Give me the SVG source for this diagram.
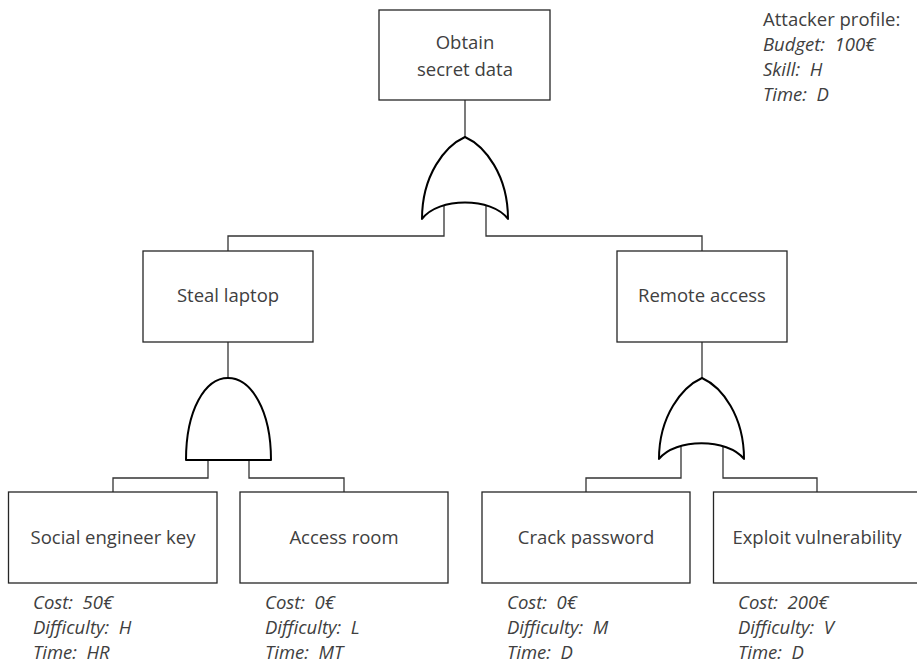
<svg xmlns="http://www.w3.org/2000/svg" width="917" height="664" viewBox="0 0 917 664">
  <style>
    .box { fill: #ffffff; stroke: #262626; stroke-width: 1.3; }
    .label { font-family: "Open Sans", "Noto Sans", sans-serif; font-size: 18.5px; fill: #404040; text-anchor: middle; }
    .note { font-family: "Open Sans", "Noto Sans", sans-serif; font-size: 18.5px; font-style: italic; fill: #404040; white-space: pre; }
    .title { font-family: "Open Sans", "Noto Sans", sans-serif; font-size: 18.5px; fill: #404040; white-space: pre; }
    .wire { fill: none; stroke: #333333; stroke-width: 1.3; }
    .gate { fill: #ffffff; stroke: #000000; stroke-width: 2; stroke-linejoin: round; }
  </style>
  <rect width="917" height="664" fill="#ffffff"/>

  <!-- connectors -->
  <g id="connectors">
    <path class="wire" d="M465,100 V137"/>
    <path class="wire" d="M444,205 V236 H228 V251"/>
    <path class="wire" d="M486,205 V236 H702 V251"/>
    <path class="wire" d="M228,342 V378"/>
    <path class="wire" d="M208,460 V478 H113 V492"/>
    <path class="wire" d="M249,460 V478 H344 V492"/>
    <path class="wire" d="M702,342 V378"/>
    <path class="wire" d="M681,447 V478 H586 V492"/>
    <path class="wire" d="M723,447 V478 H817 V492"/>
  </g>

  <!-- gates -->
  <g id="gate-or-top">
    <path class="gate" d="M422,219 C422,175 445,146 465,137 C485,146 508,175 508,219 C492,197 438,197 422,219 Z"/>
  </g>
  <g id="gate-and-laptop">
    <path class="gate" d="M186,460 C186,410 205,378 228,378 C251,378 271,410 271,460 Z"/>
  </g>
  <g id="gate-or-remote">
    <path class="gate" d="M659,459 C659,416 682,387 702,378 C722,387 744,416 744,459 C728,438 675,438 659,459 Z"/>
  </g>

  <!-- nodes -->
  <g id="node-obtain">
    <rect class="box" x="379" y="10" width="171" height="90"/>
    <text class="label" x="465" y="49">Obtain</text>
    <text class="label" x="465" y="76">secret data</text>
  </g>
  <g id="node-steal">
    <rect class="box" x="143" y="251" width="170" height="91"/>
    <text class="label" x="228" y="302">Steal laptop</text>
  </g>
  <g id="node-remote">
    <rect class="box" x="617" y="251" width="170" height="91"/>
    <text class="label" x="702" y="302">Remote access</text>
  </g>
  <g id="node-social">
    <rect class="box" x="8.5" y="492" width="208.5" height="91"/>
    <text class="label" x="113" y="544">Social engineer key</text>
    <text class="note" x="33" y="609">Cost:  50€</text>
    <text class="note" x="33" y="634">Difficulty:  H</text>
    <text class="note" x="33" y="659">Time:  HR</text>
  </g>
  <g id="node-room">
    <rect class="box" x="240" y="492" width="208" height="91"/>
    <text class="label" x="344" y="544">Access room</text>
    <text class="note" x="265" y="609">Cost:  0€</text>
    <text class="note" x="265" y="634">Difficulty:  L</text>
    <text class="note" x="265" y="659">Time:  MT</text>
  </g>
  <g id="node-crack">
    <rect class="box" x="482" y="492" width="208" height="91"/>
    <text class="label" x="586" y="544">Crack password</text>
    <text class="note" x="507" y="609">Cost:  0€</text>
    <text class="note" x="507" y="634">Difficulty:  M</text>
    <text class="note" x="507" y="659">Time:  D</text>
  </g>
  <g id="node-exploit">
    <rect class="box" x="713.5" y="492" width="208" height="91"/>
    <text class="label" x="817" y="544">Exploit vulnerability</text>
    <text class="note" x="738" y="609">Cost:  200€</text>
    <text class="note" x="738" y="634">Difficulty:  V</text>
    <text class="note" x="738" y="659">Time:  D</text>
  </g>

  <!-- attacker profile -->
  <g id="attacker-profile">
    <text class="title" x="763" y="26">Attacker profile:</text>
    <text class="note" x="763" y="51">Budget:  100€</text>
    <text class="note" x="763" y="76">Skill:  H</text>
    <text class="note" x="763" y="101">Time:  D</text>
  </g>
</svg>
